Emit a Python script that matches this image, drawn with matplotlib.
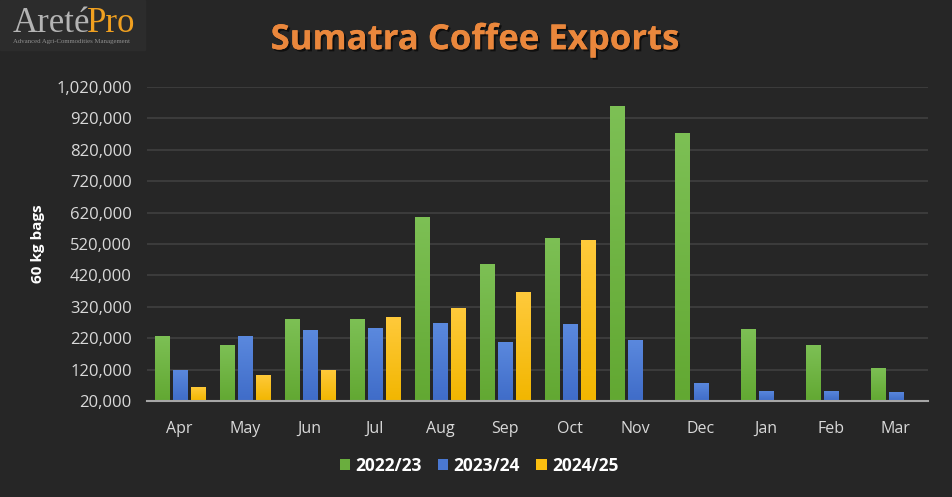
import matplotlib
matplotlib.use("Agg")
import matplotlib.pyplot as plt
import numpy as np
from matplotlib.ticker import FuncFormatter
from matplotlib.colors import LinearSegmentedColormap
import matplotlib.patheffects as pe

months = ["Apr", "May", "Jun", "Jul", "Aug", "Sep", "Oct", "Nov", "Dec", "Jan", "Feb", "Mar"]
s2223 = [227000, 198000, 281000, 281000, 606000, 456000, 539000, 959000, 874000, 249000, 198000, 126000]
s2324 = [119000, 227000, 246000, 252000, 268000, 208000, 265000, 215000, 78000, 52000, 52000, 49000]
s2425 = [65000, 103000, 119000, 288000, 317000, 367000, 533000, np.nan, np.nan, np.nan, np.nan, np.nan]
series_names = ["2022/23", "2023/24", "2024/25"]
yticks = list(range(20000, 1020001, 100000))

bg = "#262626"
colors = ["#6aae3e", "#4a78d2", "#fbbf10"]
grad = [("#62a832", "#7dc055"), ("#3f6cc8", "#5b89de"), ("#f2b600", "#ffca3c")]
txt = "#d9d9d9"
plt.rcParams['font.family'] = ['Open Sans', 'DejaVu Sans']

fig = plt.figure(figsize=(9.52, 4.97), dpi=100, facecolor=bg)
ax = fig.add_axes([0.1544, 0.193, 0.8206, 0.632], facecolor=bg)

x = np.arange(len(months))
w = 0.23
off = 0.277
base = 20000
gimg = np.linspace(0, 1, 256).reshape(-1, 1)
for i, (vals, c, name) in enumerate(zip([s2223, s2324, s2425], colors, series_names)):
    v = np.array(vals, dtype=float)
    bars = ax.bar(x + (i - 1) * off + 0.01, v - base, bottom=base, width=w, color=c, label=name, zorder=3)
    cmap = LinearSegmentedColormap.from_list(f"g{i}", list(grad[i]))
    for b in bars:
        h = b.get_height()
        if not np.isfinite(h) or h <= 0:
            continue
        x0, y0 = b.get_x(), b.get_y()
        im = ax.imshow(gimg, cmap=cmap, origin='lower', aspect='auto',
                       extent=(x0, x0 + b.get_width(), y0, y0 + h), zorder=3.5)
        im.set_clip_path(b)

ax.set_xlim(-0.5, len(months) - 0.5)
ax.set_ylim(20000, 1020000)
ax.set_yticks(yticks)
ax.yaxis.set_major_formatter(FuncFormatter(lambda v, p: f"{int(v):,}"))
ax.set_xticks(x)
ax.set_xticklabels(months)
ax.grid(axis='y', color='#404040', linewidth=1.2, zorder=0)
for s in ['top', 'right', 'left']:
    ax.spines[s].set_visible(False)
ax.spines['bottom'].set_color('#a6a6a6')
ax.spines['bottom'].set_linewidth(1.5)
ax.spines['bottom'].set_zorder(4)
ax.tick_params(axis='both', length=0, colors=txt)
ax.tick_params(axis='x', pad=14, labelsize=11.5)
ax.tick_params(axis='y', pad=11, labelsize=12)
ax.set_ylabel("60 kg bags", color='white', fontsize=11, fontweight='bold', labelpad=8)

fig.text(0.499, 0.919, "Sumatra Coffee Exports", color="#ea873c", fontsize=25, fontweight='bold',
         ha='center', va='center',
         path_effects=[pe.withSimplePatchShadow(offset=(1.5, -1.5), shadow_rgbFace='black', alpha=0.6), pe.Normal()])

# logo
fig.patches.append(plt.Rectangle((0.0, 0.9), 0.152, 0.1, transform=fig.transFigure, color="#2c2c2c", zorder=0))
fig.text(0.0137, 0.953, "Areté", color="#b4b4b4", fontsize=25, family="Liberation Serif", ha='left', va='center')
fig.text(0.0914, 0.953, "Pro", color="#f0a020", fontsize=25, family="Liberation Serif", ha='left', va='center')
fig.text(0.0137, 0.917, "Advanced Agri-Commodities Management", color="#909090", fontsize=4.9, family="Liberation Serif", ha='left', va='center')

leg = ax.legend(loc='center', bbox_to_anchor=(0.425, -0.207), ncol=3, frameon=False,
                handlelength=0.6, handleheight=0.6, handletextpad=0.3, columnspacing=0.95,
                prop={'weight': 'bold', 'size': 12.5})
for t in leg.get_texts():
    t.set_color('white')

fig.savefig("out.png", dpi=100, facecolor=bg)
